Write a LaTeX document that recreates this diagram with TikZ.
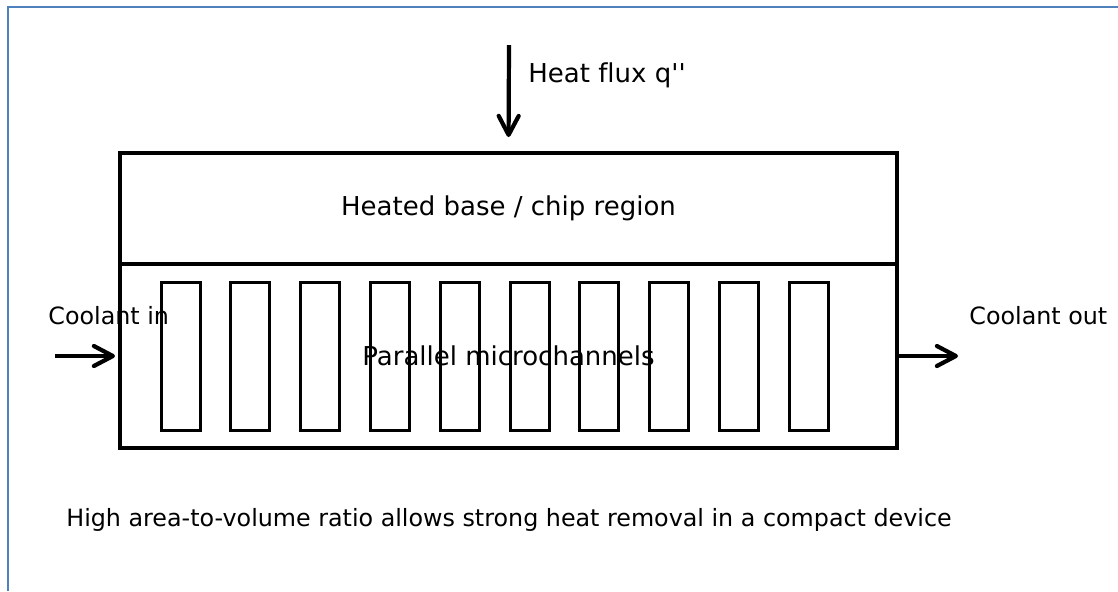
\documentclass[tikz,border=0pt]{standalone}
\usepackage{fontspec}
\setmainfont{DejaVu Sans}[Ligatures={TeXOff,NoCommon}]
\usepackage{tikz}
\usetikzlibrary{arrows.meta, positioning}

\definecolor{framebl}{RGB}{79,129,189}

\begin{document}
\begin{tikzpicture}[
    x=0.5pt, y=-0.5pt,
    layer/.style = {
        draw, line width=2.1pt, outer sep=0pt, inner sep=0pt,
        minimum width=388.5pt, font=\fontsize{13}{15.6}\selectfont
    },
    chan/.style = {
        draw, line width=1.5pt, outer sep=0pt,
        minimum width=19.5pt, minimum height=74pt
    },
    arr/.style = {-{Straight Barb[length=9.5pt, width=10pt, round]},
        line width=2.1pt},
    big/.style = {font=\fontsize{13}{15.6}\selectfont, inner sep=0pt},
    small/.style = {font=\fontsize{11.9}{14.3}\selectfont, inner sep=0pt},
]
\useasboundingbox (0,0) rectangle (1118,591);

%% ── Frame ───────────────────────────────────────────────────────────
\draw[framebl, line width=1pt] (8,591) -- (8,7) -- (1118,7);

%% ── Heat sink ───────────────────────────────────────────────────────
\node[layer, minimum height=55.5pt] (base) at (508.5, 208.5)
  {Heated base / chip region};
\node[layer, minimum height=92pt] (chans) at (508.5, 356)
  {Parallel microchannels};

%% Channels (10 in a row)
\foreach \i in {0,...,9} {
  \node[chan] (ch\i) at (180.5+69.8*\i, 356) {};
}

%% ── Labels ──────────────────────────────────────────────────────────
\node[big, anchor=base west] (qlbl) at (528, 82) {Heat flux q''};
\node[small, anchor=base west] (inlbl) at (48, 324) {Coolant in};
\node[small, anchor=base west] (outlbl) at (969, 324) {Coolant out};
\node[small, anchor=base] (note) at (509, 526)
  {High area-to-volume ratio allows strong heat removal in a compact device};

%% ── Arrows ──────────────────────────────────────────────────────────
\coordinate (qtop) at (509, 45);
\coordinate (cin) at (55, 356);
\coordinate (cout) at (958, 356);

\draw[arr, shorten >=8pt] (qtop) -- (base.north);
\draw[arr, shorten >=2.5pt] (cin) -- (chans.west);
\draw[arr] (chans.east) -- (cout);

\end{tikzpicture}
\end{document}
